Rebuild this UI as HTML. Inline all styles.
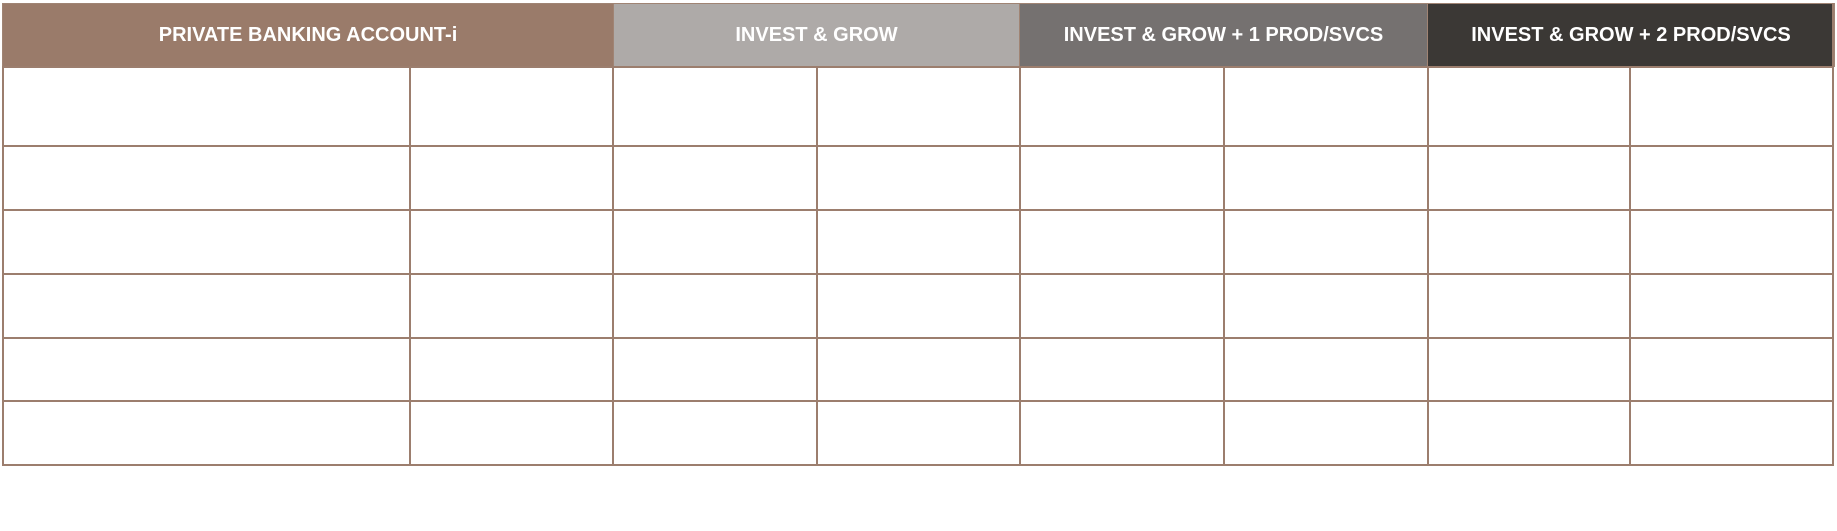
<!DOCTYPE html>
<html><head><meta charset="utf-8"><style>
html,body{margin:0;padding:0;background:#fff;width:1837px;height:531px;overflow:hidden}
.h{position:absolute;top:3px;height:64px;display:flex;align-items:center;justify-content:center;color:#fff;font:bold 20px "Liberation Sans",sans-serif;box-sizing:border-box;border:1.5px solid #a08474}
.v{position:absolute;width:2px;background:#9c7e6e}
.r{position:absolute;height:2px;background:#9c7e6e;left:2px;width:1832px}
</style></head><body>
<div style="position:relative;width:1837px;height:531px">
<div class="h" style="left:2px;width:612px;background:#9a7b6a">PRIVATE BANKING ACCOUNT-i</div>
<div class="h" style="left:613px;width:407px;background:#aeaaa8">INVEST &amp; GROW</div>
<div class="h" style="left:1019px;width:409px;background:#757170">INVEST &amp; GROW + 1 PROD/SVCS</div>
<div class="h" style="left:1427px;width:408px;background:#3b3835">INVEST &amp; GROW + 2 PROD/SVCS</div>
<div class="r" style="top:66px"></div>
<div class="r" style="top:145px"></div>
<div class="r" style="top:209px"></div>
<div class="r" style="top:273px"></div>
<div class="r" style="top:337px"></div>
<div class="r" style="top:400px"></div>
<div class="r" style="top:464px"></div>
<div class="v" style="left:2px;top:66px;height:400px"></div>
<div class="v" style="left:409px;top:66px;height:400px"></div>
<div class="v" style="left:612px;top:66px;height:400px"></div>
<div class="v" style="left:816px;top:66px;height:400px"></div>
<div class="v" style="left:1019px;top:66px;height:400px"></div>
<div class="v" style="left:1223px;top:66px;height:400px"></div>
<div class="v" style="left:1427px;top:66px;height:400px"></div>
<div class="v" style="left:1629px;top:66px;height:400px"></div>
<div class="v" style="left:1832px;top:3px;height:463px"></div>
</div>
</body></html>
